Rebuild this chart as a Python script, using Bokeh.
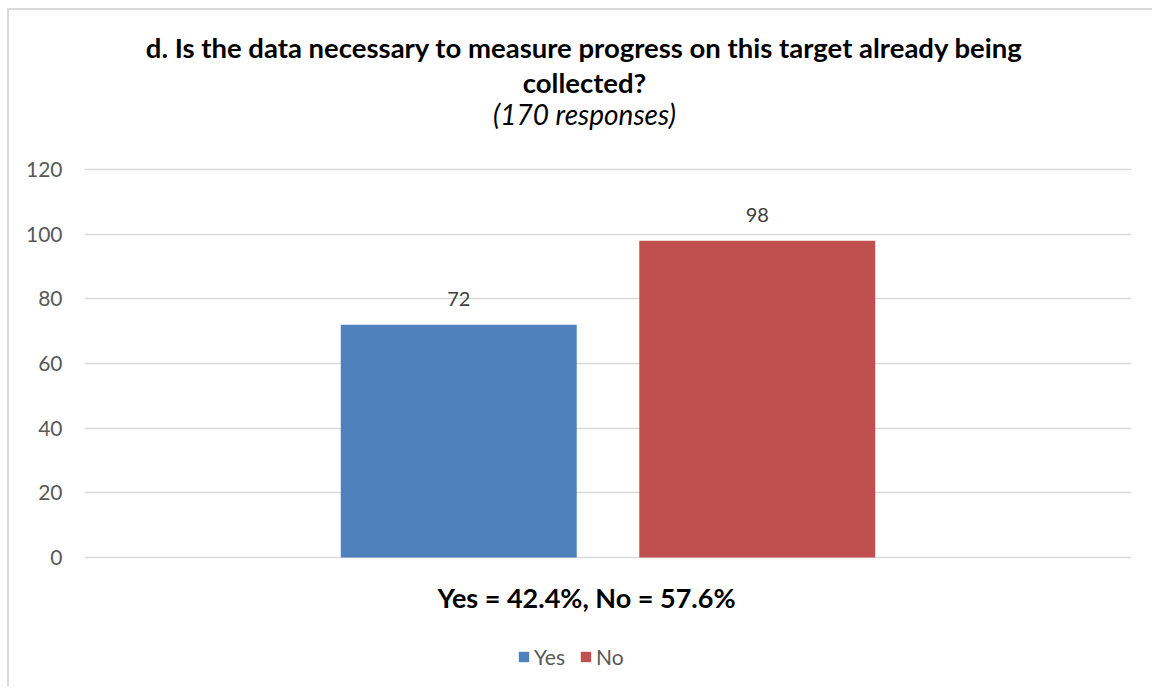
from bokeh.plotting import figure
from bokeh.models import FactorRange, Range1d, ColumnDataSource, LabelSet, Label, Legend, LegendItem
from bokeh.core.properties import value
from bokeh.embed import file_html
from bokeh.resources import INLINE

categories = ["Yes", "No"]
values = [72, 98]
colors = ["#4F81BD", "#C0504D"]
y_ticks = [0, 20, 40, 60, 80, 100, 120]
title_line1 = "d. Is the data necessary to measure progress on this target already being"
title_line2 = "collected?"
subtitle = "(170 responses)"
x_label = "Yes = 42.4%, No = 57.6%"

FONT = "Lato"

src = ColumnDataSource(dict(cat=categories, val=values, col=colors, lbl=[str(v) for v in values]))

p = figure(
    x_range=FactorRange(factors=categories, factor_padding=0.012, range_padding=0.769,
                        range_padding_units="absolute"),
    # frame spans the full height so titles, caption and legend sit inside it
    y_range=Range1d(-40.5, 169.2),
    width=1145, height=678,
    output_backend="svg", toolbar_location=None,
    min_border_left=75, min_border_right=23, min_border_top=0, min_border_bottom=0,
)
p.margin = (8, 0, 0, 7)
p.styles = {"border-left": "2px solid #d9d9d9", "border-top": "2px solid #d9d9d9"}
p.outline_line_color = None
p.background_fill_color = "white"
p.border_fill_color = "white"

r = p.vbar(x="cat", top="val", width=0.8, fill_color="col", line_color=None, source=src)

labels = LabelSet(x="cat", y="val", text="lbl", source=src, text_align="center",
                  text_baseline="alphabetic", y_offset=19, text_font=value(FONT),
                  text_font_size="20px", text_color="#404040")
p.add_layout(labels)

def add_text(txt, x, y, size, style, color="#000000"):
    p.add_layout(Label(x=x, y=y, x_units="screen", y_units="screen", text=txt,
                       text_align="center", text_baseline="alphabetic", text_font=FONT,
                       text_font_size=size, text_font_style=style, text_color=color))

add_text(title_line1, 500, 641, "27.5px", "bold")
add_text(title_line2, 500, 606, "27.5px", "bold")
add_text(subtitle, 500, 575, "28px", "italic")
add_text(x_label, 502, 91, "27px", "bold")

p.yaxis.ticker = y_ticks
p.yaxis.axis_line_color = None
p.yaxis.major_tick_line_color = None
p.yaxis.minor_tick_line_color = None
p.yaxis.major_tick_out = 0
p.yaxis.major_label_standoff = 22
p.yaxis.major_label_text_font = FONT
p.yaxis.major_label_text_font_size = "21px"
p.yaxis.major_label_text_color = "#595959"

p.ygrid.ticker = y_ticks
p.ygrid.grid_line_color = "#d9d9d9"
p.ygrid.grid_line_width = 1.5
p.xgrid.grid_line_color = None
p.xaxis.visible = False

legend = Legend(items=[LegendItem(label=c, renderers=[r], index=i) for i, c in enumerate(categories)],
                orientation="horizontal", location=(433, 19))
legend.border_line_color = None
legend.background_fill_alpha = 0
legend.glyph_width = 13
legend.glyph_height = 13
legend.label_standoff = 4
legend.spacing = 14
legend.padding = 0
legend.margin = 0
legend.label_text_font = FONT
legend.label_text_font_size = "21px"
legend.label_text_color = "#595959"
p.add_layout(legend)

open("out.html", "w").write(file_html(p, INLINE))
